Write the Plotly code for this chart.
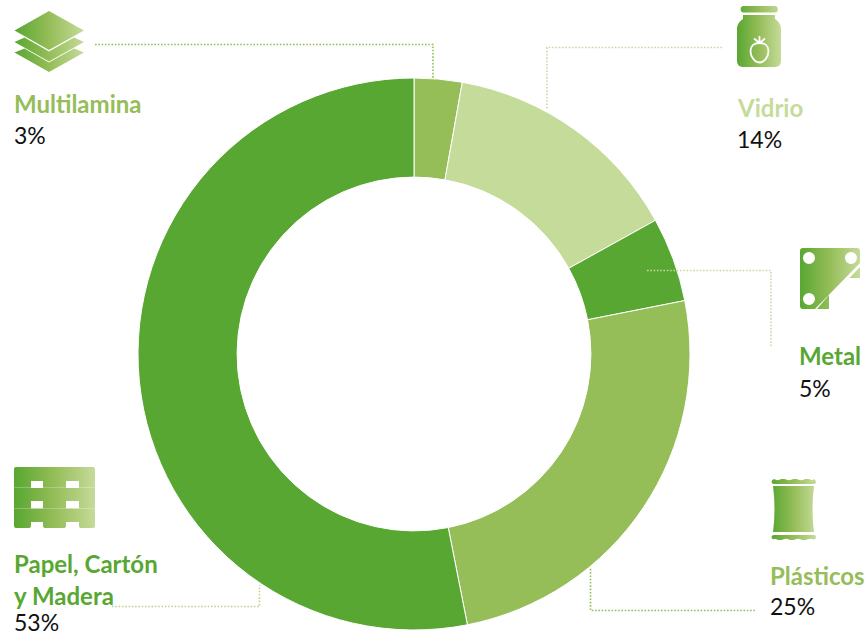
import base64
import plotly.graph_objects as go

W, H = 868, 636

categories = ["Multilamina", "Vidrio", "Metal", "Plásticos", "Papel, Cartón y Madera"]
percent_labels = [3, 14, 5, 25, 53]
slice_sizes = [2.8, 14.15, 4.95, 25.0, 53.1]
colors = ["#95BD58", "#C5DB9A", "#58A732", "#95BD58", "#58A732"]
leader_colors = ["#95BD58", "#C5DB9A", "#C5DB9A", "#95BD58", "#BBD48F"]
label_lines = [["Multilamina"], ["Vidrio"], ["Metal"], ["Plásticos"], ["Papel, Cartón", "y Madera"]]

label_left = [15, 738, 800, 771, 15]
label_y = [[103], [108], [355], [575], [563, 595]]
pct_y = [135, 139, 388, 606, 622]

leaders = [
    [(95, 44.5), (433, 44.5), (433, 78)],
    [(722, 47.5), (547, 47.5), (547, 110)],
    [(647, 270.5), (771, 270.5), (771, 347)],
    [(755, 610.5), (590.5, 610.5), (590.5, 568)],
    [(112, 606.5), (259.5, 606.5), (259.5, 585)],
]


def px(x):
    return x / W


def py(y):
    return 1 - y / H


GRAD = ('<defs><linearGradient id="g" x1="0" y1="0" x2="1" y2="0">'
        '<stop offset="0" stop-color="#58A732"/><stop offset="0.5" stop-color="#95BD58"/>'
        '<stop offset="1" stop-color="#C5DB9A"/></linearGradient></defs>')


def icon(x, y, w, h, body):
    svg = (f'<svg xmlns="http://www.w3.org/2000/svg" width="{w*4}" height="{h*4}" '
           f'viewBox="{x} {y} {w} {h}">{GRAD}<g fill="url(#g)">{body}</g></svg>')
    src = "data:image/svg+xml;base64," + base64.b64encode(svg.encode()).decode()
    return dict(source=src, xref="paper", yref="paper", x=px(x), y=py(y),
                sizex=w / W, sizey=h / H, xanchor="left", yanchor="top",
                sizing="stretch", layer="above")


layers = ('<path d="M14.5 30.5L49 11L84 30.5L49 50Z'
          'M14.5 42L24.5 37.5L49 51.5L74 37.5L84 42L49 61.5Z'
          'M14.5 52.5L24.5 48.5L49 62.5L74 48.5L84 52.5L49 72Z"/>')
jar = ('<path fill-rule="evenodd" d="M743.5 6H775a2.8 2.8 0 0 1 2.8 3.2a2.8 2.8 0 0 1 -2.8 3.3H743.5a2.8 2.8 0 0 1 -2.8 -3.3a2.8 2.8 0 0 1 2.8 -3.2Z'
       'M743 15H775V19C778 21 781 24 781 29V61C781 64 779 67 775 67H743C739 67 737 64 737 61V29C737 24 740 21 743 19Z"/>'
       '<path d="M759.5 43C754 43 750.5 46 750.5 51C750.5 57 755 62.5 759.5 62.5C764 62.5 768.5 57 768.5 51C768.5 46 765 43 759.5 43Z'
       'M759.5 43V36M759.5 43L754 38.5M759.5 43L765 38.5" fill="none" stroke="#fff" stroke-width="1.8"/>')
metal = ('<path fill-rule="evenodd" d="M803 248H857Q860 248 860 251V263L815 309H803Q800 309 800 306V251Q800 248 803 248Z'
         'M803 258a6 6 0 1 0 12 0a6 6 0 1 0 -12 0Z'
         'M845 258a6 6 0 1 0 12 0a6 6 0 1 0 -12 0Z'
         'M803 299a6 6 0 1 0 12 0a6 6 0 1 0 -12 0Z'
         'M860 267V278H849.5ZM829 295V309H817Z"/>')
plastic = ('<path d="M774 479Q777 481 780 479.5T786 479.5T792 479.5T798 479.5T804 479.5T810 479.5T814 479Q816 480 816 482Q816 484 814 484H774Q771.5 484 771.5 482Q771.5 480 774 479Z'
           'M773 486H814Q811 509 814 532H773Q776 509 773 486Z'
           'M774 535H814Q816 535 816 537Q816 539 814 539.5Q810 538 807 539.5T801 539.5T795 539.5T789 539.5T783 539.5T777 539.5T774 539.5Q771.5 539 771.5 537Q771.5 535 774 535Z"/>')
pallet = ('<path fill-rule="evenodd" d="M16 467H93Q95 467 95 469V487.7H14V469Q14 467 16 467ZM31 481V487.7H43V481ZM66 481V487.7H79V481Z'
          'M14 488H95V508.2H14ZM31 501V508.2H43V501ZM66 501V508.2H79V501Z'
          'M14 508.5H95V526Q95 528 93 528H81Q79 528 79 526V522H66V526Q66 528 64 528H45Q43 528 43 526V522H31V526Q31 528 29 528H16Q14 528 14 526Z"/>')

images = [
    icon(14, 11, 71, 62, layers),
    icon(737, 6, 45, 62, jar),
    icon(800, 248, 60, 62, metal),
    icon(771, 479, 46, 61, plastic),
    icon(14, 467, 81, 62, pallet),
]

fig = go.Figure(go.Pie(
    labels=categories, values=slice_sizes, sort=False, direction="clockwise", rotation=0,
    hole=0.641, textinfo="none", hoverinfo="label", showlegend=False,
    marker=dict(colors=colors, line=dict(color="#ffffff", width=1)),
    domain=dict(x=[px(138), px(690)], y=[py(630), py(78)]),
))

shapes = []
for pts, col in zip(leaders, leader_colors):
    path = "M" + " L".join(f"{px(a):.5f},{py(b):.5f}" for a, b in pts)
    shapes.append(dict(type="path", path=path, xref="paper", yref="paper",
                       line=dict(color=col, width=1.6, dash="1.6px,1.7px")))

LABEL_FONT = "Lato"
annotations = []
for lines, left, ys, pcty, col, val in zip(label_lines, label_left, label_y, pct_y, colors, percent_labels):
    for text, y in zip(lines, ys):
        annotations.append(dict(text=text, x=px(left), y=py(y), xref="paper", yref="paper",
                                xanchor="left", yanchor="middle", showarrow=False,
                                borderpad=0, xshift=-2,
                                font=dict(family=LABEL_FONT, size=24, color=col, weight=700)))
    annotations.append(dict(text=f"{val}%", x=px(left), y=py(pcty), xref="paper", yref="paper",
                            xanchor="left", yanchor="middle", showarrow=False,
                            borderpad=0, xshift=-2,
                            font=dict(family=LABEL_FONT, size=23, color="#111111")))

fig.update_layout(width=W, height=H, margin=dict(l=0, r=0, t=0, b=0), autosize=False,
                  paper_bgcolor="#ffffff", shapes=shapes, annotations=annotations, images=images)
fig.write_html("out.html", config=dict(displayModeBar=False),
               post_script="document.body.style.margin='0';document.documentElement.style.overflow='hidden';")
